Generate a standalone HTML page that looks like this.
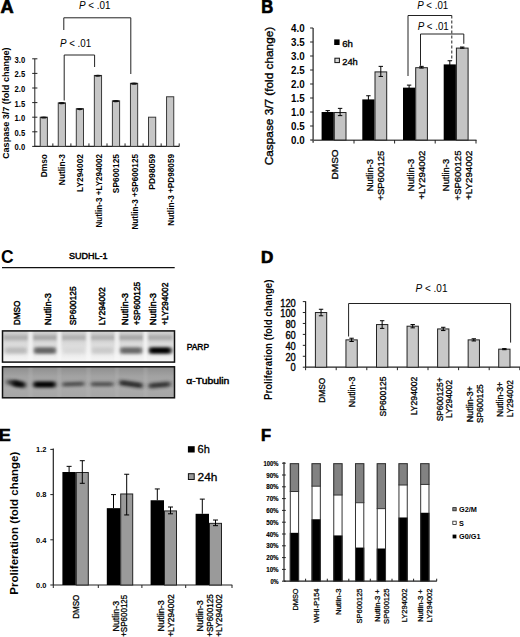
<!DOCTYPE html>
<html><head><meta charset="utf-8"><style>
html,body{margin:0;padding:0;background:#fff;}
svg{display:block;}
text{font-family:"Liberation Sans", sans-serif;}
</style></head><body>
<svg width="520" height="637" viewBox="0 0 520 637">
<rect width="520" height="637" fill="#fff"/>
<text x="0.6" y="12.5" font-size="18.2" font-weight="bold" text-anchor="start" fill="#000" stroke="#000" stroke-width="0.7">A</text>
<line x1="34.8" y1="58.8" x2="34.8" y2="146.9" stroke="#222" stroke-width="1" />
<line x1="32.2" y1="146.4" x2="37.4" y2="146.4" stroke="#222" stroke-width="1" />
<text x="25.2" y="150.3" font-size="8.5" font-weight="bold" text-anchor="end" fill="#000" textLength="10.6" lengthAdjust="spacingAndGlyphs" >0.0</text>
<line x1="32.2" y1="131.8" x2="37.4" y2="131.8" stroke="#222" stroke-width="1" />
<text x="25.2" y="135.7" font-size="8.5" font-weight="bold" text-anchor="end" fill="#000" textLength="10.6" lengthAdjust="spacingAndGlyphs" >0.5</text>
<line x1="32.2" y1="117.2" x2="37.4" y2="117.2" stroke="#222" stroke-width="1" />
<text x="25.2" y="121.1" font-size="8.5" font-weight="bold" text-anchor="end" fill="#000" textLength="10.6" lengthAdjust="spacingAndGlyphs" >1.0</text>
<line x1="32.2" y1="102.6" x2="37.4" y2="102.6" stroke="#222" stroke-width="1" />
<text x="25.2" y="106.5" font-size="8.5" font-weight="bold" text-anchor="end" fill="#000" textLength="10.6" lengthAdjust="spacingAndGlyphs" >1.5</text>
<line x1="32.2" y1="88.0" x2="37.4" y2="88.0" stroke="#222" stroke-width="1" />
<text x="25.2" y="91.9" font-size="8.5" font-weight="bold" text-anchor="end" fill="#000" textLength="10.6" lengthAdjust="spacingAndGlyphs" >2.0</text>
<line x1="32.2" y1="73.4" x2="37.4" y2="73.4" stroke="#222" stroke-width="1" />
<text x="25.2" y="77.3" font-size="8.5" font-weight="bold" text-anchor="end" fill="#000" textLength="10.6" lengthAdjust="spacingAndGlyphs" >2.5</text>
<line x1="32.2" y1="58.8" x2="37.4" y2="58.8" stroke="#222" stroke-width="1" />
<text x="25.2" y="62.7" font-size="8.5" font-weight="bold" text-anchor="end" fill="#000" textLength="10.6" lengthAdjust="spacingAndGlyphs" >3.0</text>
<line x1="34.8" y1="146.4" x2="179.3" y2="146.4" stroke="#222" stroke-width="1.2" />
<line x1="52.85" y1="143.4" x2="52.85" y2="146.4" stroke="#222" stroke-width="1" />
<line x1="70.9" y1="143.4" x2="70.9" y2="146.4" stroke="#222" stroke-width="1" />
<line x1="88.95" y1="143.4" x2="88.95" y2="146.4" stroke="#222" stroke-width="1" />
<line x1="107.0" y1="143.4" x2="107.0" y2="146.4" stroke="#222" stroke-width="1" />
<line x1="125.05" y1="143.4" x2="125.05" y2="146.4" stroke="#222" stroke-width="1" />
<line x1="143.1" y1="143.4" x2="143.1" y2="146.4" stroke="#222" stroke-width="1" />
<line x1="161.15" y1="143.4" x2="161.15" y2="146.4" stroke="#222" stroke-width="1" />
<line x1="179.2" y1="143.4" x2="179.2" y2="146.4" stroke="#222" stroke-width="1" />
<rect x="40.2" y="117.2" width="7.2" height="29.2" fill="#c6c6c6" stroke="#3a3a3a" stroke-width="1" />
<ellipse cx="43.8" cy="117.5" rx="3.2" ry="1.1" fill="#111"/>
<rect x="58.25" y="102.89" width="7.2" height="43.51" fill="#c6c6c6" stroke="#3a3a3a" stroke-width="1" />
<ellipse cx="61.85" cy="103.19" rx="3.2" ry="1.1" fill="#111"/>
<rect x="76.3" y="108.73" width="7.2" height="37.67" fill="#c6c6c6" stroke="#3a3a3a" stroke-width="1" />
<ellipse cx="79.9" cy="109.03" rx="3.2" ry="1.1" fill="#111"/>
<rect x="94.35" y="75.44" width="7.2" height="70.96" fill="#c6c6c6" stroke="#3a3a3a" stroke-width="1" />
<ellipse cx="97.95" cy="75.74" rx="3.2" ry="1.1" fill="#111"/>
<rect x="112.4" y="100.85" width="7.2" height="45.55" fill="#c6c6c6" stroke="#3a3a3a" stroke-width="1" />
<ellipse cx="116.0" cy="101.15" rx="3.2" ry="1.1" fill="#111"/>
<rect x="130.45" y="83.33" width="7.2" height="63.07" fill="#c6c6c6" stroke="#3a3a3a" stroke-width="1" />
<ellipse cx="134.05" cy="83.63" rx="3.2" ry="1.1" fill="#111"/>
<rect x="148.5" y="117.2" width="7.2" height="29.2" fill="#c6c6c6" stroke="#3a3a3a" stroke-width="1" />
<rect x="166.55" y="96.76" width="7.2" height="49.64" fill="#c6c6c6" stroke="#3a3a3a" stroke-width="1" />
<text x="0" y="0" font-size="8.4" font-weight="bold" text-anchor="end" fill="#000" transform="translate(46.8,154) rotate(-90)" >Dmso</text>
<text x="0" y="0" font-size="8.4" font-weight="bold" text-anchor="end" fill="#000" transform="translate(64.85,154) rotate(-90)" >Nutlin-3</text>
<text x="0" y="0" font-size="8.4" font-weight="bold" text-anchor="end" fill="#000" transform="translate(82.9,154) rotate(-90)" >LY294002</text>
<text x="0" y="0" font-size="8.4" font-weight="bold" text-anchor="end" fill="#000" transform="translate(101.75,154) rotate(-90)" textLength="73.6" lengthAdjust="spacingAndGlyphs" >Nutlin-3 +LY294002</text>
<text x="0" y="0" font-size="8.4" font-weight="bold" text-anchor="end" fill="#000" transform="translate(119.0,154) rotate(-90)" >SP600125</text>
<text x="0" y="0" font-size="8.4" font-weight="bold" text-anchor="end" fill="#000" transform="translate(137.65,154) rotate(-90)" textLength="75.6" lengthAdjust="spacingAndGlyphs" >Nutlin-3 +SP600125</text>
<text x="0" y="0" font-size="8.4" font-weight="bold" text-anchor="end" fill="#000" transform="translate(155.1,154) rotate(-90)" textLength="35.8" lengthAdjust="spacingAndGlyphs" >PD98059</text>
<text x="0" y="0" font-size="8.4" font-weight="bold" text-anchor="end" fill="#000" transform="translate(173.95,154) rotate(-90)" textLength="71.8" lengthAdjust="spacingAndGlyphs" >Nutlin-3 +PD98059</text>
<text x="0" y="0" font-size="9" font-weight="bold" text-anchor="middle" fill="#000" transform="translate(8.8,103.2) rotate(-90)" textLength="111.5" lengthAdjust="spacingAndGlyphs" >Caspase 3/7 (fold change)</text>
<path d="M63.8,30 V17.8 H130.8 V74" fill="none" stroke="#222" stroke-width="1"/>
<path d="M64.2,100.5 V55 H94.6 V67" fill="none" stroke="#222" stroke-width="1"/>
<text x="79" y="8.8" font-size="10" font-weight="normal" textLength="31.5" lengthAdjust="spacingAndGlyphs"><tspan font-style="italic">P</tspan> &lt; .01</text>
<text x="60" y="46.8" font-size="10" font-weight="normal" textLength="31.2" lengthAdjust="spacingAndGlyphs"><tspan font-style="italic">P</tspan> &lt; .01</text>
<text x="261.2" y="12.8" font-size="17.6" font-weight="bold" text-anchor="start" fill="#000" textLength="12.0" lengthAdjust="spacingAndGlyphs" stroke="#000" stroke-width="0.7">B</text>
<line x1="313.1" y1="28.0" x2="313.1" y2="142.8" stroke="#222" stroke-width="1.2" />
<line x1="310.1" y1="140.0" x2="313.1" y2="140.0" stroke="#222" stroke-width="1" />
<text x="304.6" y="144.2" font-size="10.2" font-weight="bold" text-anchor="end" fill="#000" textLength="13.6" lengthAdjust="spacingAndGlyphs" >0.0</text>
<line x1="310.1" y1="126.0" x2="313.1" y2="126.0" stroke="#222" stroke-width="1" />
<text x="304.6" y="130.2" font-size="10.2" font-weight="bold" text-anchor="end" fill="#000" textLength="13.6" lengthAdjust="spacingAndGlyphs" >0.5</text>
<line x1="310.1" y1="112.0" x2="313.1" y2="112.0" stroke="#222" stroke-width="1" />
<text x="304.6" y="116.2" font-size="10.2" font-weight="bold" text-anchor="end" fill="#000" textLength="13.6" lengthAdjust="spacingAndGlyphs" >1.0</text>
<line x1="310.1" y1="98.0" x2="313.1" y2="98.0" stroke="#222" stroke-width="1" />
<text x="304.6" y="102.2" font-size="10.2" font-weight="bold" text-anchor="end" fill="#000" textLength="13.6" lengthAdjust="spacingAndGlyphs" >1.5</text>
<line x1="310.1" y1="84.0" x2="313.1" y2="84.0" stroke="#222" stroke-width="1" />
<text x="304.6" y="88.2" font-size="10.2" font-weight="bold" text-anchor="end" fill="#000" textLength="13.6" lengthAdjust="spacingAndGlyphs" >2.0</text>
<line x1="310.1" y1="70.0" x2="313.1" y2="70.0" stroke="#222" stroke-width="1" />
<text x="304.6" y="74.2" font-size="10.2" font-weight="bold" text-anchor="end" fill="#000" textLength="13.6" lengthAdjust="spacingAndGlyphs" >2.5</text>
<line x1="310.1" y1="56.0" x2="313.1" y2="56.0" stroke="#222" stroke-width="1" />
<text x="304.6" y="60.2" font-size="10.2" font-weight="bold" text-anchor="end" fill="#000" textLength="13.6" lengthAdjust="spacingAndGlyphs" >3.0</text>
<line x1="310.1" y1="42.0" x2="313.1" y2="42.0" stroke="#222" stroke-width="1" />
<text x="304.6" y="46.2" font-size="10.2" font-weight="bold" text-anchor="end" fill="#000" textLength="13.6" lengthAdjust="spacingAndGlyphs" >3.5</text>
<line x1="310.1" y1="28.0" x2="313.1" y2="28.0" stroke="#222" stroke-width="1" />
<text x="304.6" y="32.2" font-size="10.2" font-weight="bold" text-anchor="end" fill="#000" textLength="13.6" lengthAdjust="spacingAndGlyphs" >4.0</text>
<line x1="311.6" y1="140.3" x2="476.5" y2="140.3" stroke="#555" stroke-width="1.6" />
<line x1="354.0" y1="140.0" x2="354.0" y2="143.5" stroke="#222" stroke-width="1" />
<line x1="394.6" y1="140.0" x2="394.6" y2="143.5" stroke="#222" stroke-width="1" />
<line x1="435.2" y1="140.0" x2="435.2" y2="143.5" stroke="#222" stroke-width="1" />
<line x1="476.0" y1="140.0" x2="476.0" y2="143.5" stroke="#222" stroke-width="1" />
<rect x="321.6" y="112.0" width="12.2" height="28.0" fill="#000" />
<rect x="334.3" y="112.5" width="11.7" height="27.5" fill="#c4c4c4" stroke="#222" stroke-width="1" />
<line x1="327.7" y1="110.6" x2="327.7" y2="113.4" stroke="#000" stroke-width="1" />
<line x1="325.5" y1="110.6" x2="329.9" y2="110.6" stroke="#000" stroke-width="1" />
<line x1="325.5" y1="113.4" x2="329.9" y2="113.4" stroke="#000" stroke-width="1" />
<line x1="340.1" y1="108.36" x2="340.1" y2="115.64" stroke="#000" stroke-width="1" />
<line x1="337.9" y1="108.36" x2="342.3" y2="108.36" stroke="#000" stroke-width="1" />
<line x1="337.9" y1="115.64" x2="342.3" y2="115.64" stroke="#000" stroke-width="1" />
<rect x="362.3" y="99.4" width="12.2" height="40.6" fill="#000" />
<rect x="375.0" y="71.9" width="11.7" height="68.1" fill="#c4c4c4" stroke="#222" stroke-width="1" />
<line x1="368.4" y1="95.76" x2="368.4" y2="103.04" stroke="#000" stroke-width="1" />
<line x1="366.2" y1="95.76" x2="370.6" y2="95.76" stroke="#000" stroke-width="1" />
<line x1="366.2" y1="103.04" x2="370.6" y2="103.04" stroke="#000" stroke-width="1" />
<line x1="380.8" y1="66.36" x2="380.8" y2="76.44" stroke="#000" stroke-width="1" />
<line x1="378.6" y1="66.36" x2="383.0" y2="66.36" stroke="#000" stroke-width="1" />
<line x1="378.6" y1="76.44" x2="383.0" y2="76.44" stroke="#000" stroke-width="1" />
<rect x="403.0" y="87.64" width="12.2" height="52.36" fill="#000" />
<rect x="415.7" y="67.7" width="11.7" height="72.3" fill="#c4c4c4" stroke="#222" stroke-width="1" />
<line x1="409.1" y1="85.12" x2="409.1" y2="90.16" stroke="#000" stroke-width="1" />
<line x1="406.9" y1="85.12" x2="411.3" y2="85.12" stroke="#000" stroke-width="1" />
<line x1="406.9" y1="90.16" x2="411.3" y2="90.16" stroke="#000" stroke-width="1" />
<line x1="421.5" y1="66.36" x2="421.5" y2="68.04" stroke="#000" stroke-width="1" />
<line x1="419.3" y1="66.36" x2="423.7" y2="66.36" stroke="#000" stroke-width="1" />
<line x1="419.3" y1="68.04" x2="423.7" y2="68.04" stroke="#000" stroke-width="1" />
<rect x="443.7" y="64.4" width="12.2" height="75.6" fill="#000" />
<rect x="456.4" y="48.1" width="11.7" height="91.9" fill="#c4c4c4" stroke="#222" stroke-width="1" />
<line x1="449.8" y1="60.76" x2="449.8" y2="68.04" stroke="#000" stroke-width="1" />
<line x1="447.6" y1="60.76" x2="452" y2="60.76" stroke="#000" stroke-width="1" />
<line x1="447.6" y1="68.04" x2="452" y2="68.04" stroke="#000" stroke-width="1" />
<line x1="462.2" y1="47.04" x2="462.2" y2="48.16" stroke="#000" stroke-width="1" />
<line x1="460.0" y1="47.04" x2="464.4" y2="47.04" stroke="#000" stroke-width="1" />
<line x1="460.0" y1="48.16" x2="464.4" y2="48.16" stroke="#000" stroke-width="1" />
<rect x="334.2" y="39.4" width="5.4" height="5.6" fill="#000" />
<text x="342.2" y="46.6" font-size="9.6" font-weight="normal" text-anchor="start" fill="#000" stroke="#000" stroke-width="0.35">6h</text>
<rect x="334.9" y="58.2" width="4.5" height="4.4" fill="#d8d8d8" stroke="#111" stroke-width="1" />
<text x="342.2" y="64.8" font-size="9.6" font-weight="normal" text-anchor="start" fill="#000" textLength="15.6" lengthAdjust="spacingAndGlyphs" stroke="#000" stroke-width="0.35">24h</text>
<text x="0" y="0" font-size="11.5" font-weight="normal" text-anchor="middle" fill="#000" transform="translate(272.8,96.0) rotate(-90)" textLength="138.5" lengthAdjust="spacingAndGlyphs" stroke="#000" stroke-width="0.35">Caspase 3/7 (fold change)</text>
<text x="0" y="0" font-size="9.6" font-weight="normal" text-anchor="middle" fill="#000" transform="translate(338.4,164.4) rotate(-90)" textLength="30.0" lengthAdjust="spacingAndGlyphs" stroke="#000" stroke-width="0.3">DMSO</text>
<text x="0" y="0" font-size="9.6" font-weight="normal" text-anchor="middle" fill="#000" transform="translate(373.4,175.2) rotate(-90)" textLength="32.3" lengthAdjust="spacingAndGlyphs" stroke="#000" stroke-width="0.3">Nutlin-3</text>
<text x="0" y="0" font-size="9.6" font-weight="normal" text-anchor="middle" fill="#000" transform="translate(384.3,175.7) rotate(-90)" textLength="49.8" lengthAdjust="spacingAndGlyphs" stroke="#000" stroke-width="0.3">+SP600125</text>
<text x="0" y="0" font-size="9.6" font-weight="normal" text-anchor="middle" fill="#000" transform="translate(414.3,175.0) rotate(-90)" textLength="32.3" lengthAdjust="spacingAndGlyphs" stroke="#000" stroke-width="0.3">Nutlin-3</text>
<text x="0" y="0" font-size="9.6" font-weight="normal" text-anchor="middle" fill="#000" transform="translate(425.1,175.1) rotate(-90)" textLength="49.0" lengthAdjust="spacingAndGlyphs" stroke="#000" stroke-width="0.3">+LY294002</text>
<text x="0" y="0" font-size="9.6" font-weight="normal" text-anchor="middle" fill="#000" transform="translate(449.3,175.0) rotate(-90)" textLength="32.3" lengthAdjust="spacingAndGlyphs" stroke="#000" stroke-width="0.3">Nutlin-3</text>
<text x="0" y="0" font-size="9.6" font-weight="normal" text-anchor="middle" fill="#000" transform="translate(461.1,175.5) rotate(-90)" textLength="49.8" lengthAdjust="spacingAndGlyphs" stroke="#000" stroke-width="0.3">+SP600125</text>
<text x="0" y="0" font-size="9.6" font-weight="normal" text-anchor="middle" fill="#000" transform="translate(471.9,175.2) rotate(-90)" textLength="49.2" lengthAdjust="spacingAndGlyphs" stroke="#000" stroke-width="0.3">+LY294002</text>
<path d="M408,76 V15.5 H451.8" fill="none" stroke="#222" stroke-width="1"/>
<line x1="451.8" y1="15.5" x2="451.8" y2="61" stroke="#222" stroke-width="1" stroke-dasharray="3,2"/>
<path d="M420.5,65.8 V34 H463.8 V43.8" fill="none" stroke="#222" stroke-width="1"/>
<text x="417.2" y="9.2" font-size="10" font-weight="normal" textLength="31" lengthAdjust="spacingAndGlyphs"><tspan font-style="italic">P</tspan> &lt; .01</text>
<text x="417.7" y="30.2" font-size="10" font-weight="normal" textLength="31.1" lengthAdjust="spacingAndGlyphs"><tspan font-style="italic">P</tspan> &lt; .01</text>
<text x="1.0" y="263.4" font-size="17.5" font-weight="bold" text-anchor="start" fill="#000" >C</text>
<text x="69.0" y="258.7" font-size="9.9" font-weight="normal" text-anchor="start" fill="#000" textLength="38.6" lengthAdjust="spacingAndGlyphs" stroke="#000" stroke-width="0.5">SUDHL-1</text>
<line x1="2" y1="267.6" x2="174.7" y2="267.6" stroke="#111" stroke-width="1.4" />
<text x="0" y="0" font-size="9.4" font-weight="normal" text-anchor="start" fill="#000" transform="translate(19.6,325.3) rotate(-90)" textLength="24.8" lengthAdjust="spacingAndGlyphs" stroke="#000" stroke-width="0.45">DMSO</text>
<text x="0" y="0" font-size="9.4" font-weight="normal" text-anchor="start" fill="#000" transform="translate(50.6,325.3) rotate(-90)" textLength="32.2" lengthAdjust="spacingAndGlyphs" stroke="#000" stroke-width="0.45">Nutlin-3</text>
<text x="0" y="0" font-size="9.4" font-weight="normal" text-anchor="start" fill="#000" transform="translate(75.6,325.3) rotate(-90)" textLength="38.9" lengthAdjust="spacingAndGlyphs" stroke="#000" stroke-width="0.45">SP600125</text>
<text x="0" y="0" font-size="9.4" font-weight="normal" text-anchor="start" fill="#000" transform="translate(105.0,325.3) rotate(-90)" textLength="38.0" lengthAdjust="spacingAndGlyphs" stroke="#000" stroke-width="0.45">LY294002</text>
<text x="0" y="0" font-size="9.4" font-weight="normal" text-anchor="start" fill="#000" transform="translate(127.6,325.3) rotate(-90)" textLength="32.4" lengthAdjust="spacingAndGlyphs" stroke="#000" stroke-width="0.45">Nutlin-3</text>
<text x="0" y="0" font-size="9.4" font-weight="normal" text-anchor="start" fill="#000" transform="translate(140.2,325.3) rotate(-90)" textLength="43.4" lengthAdjust="spacingAndGlyphs" stroke="#000" stroke-width="0.45">+SP600125</text>
<text x="0" y="0" font-size="9.4" font-weight="normal" text-anchor="start" fill="#000" transform="translate(155.6,325.3) rotate(-90)" textLength="32.4" lengthAdjust="spacingAndGlyphs" stroke="#000" stroke-width="0.45">Nutlin-3</text>
<text x="0" y="0" font-size="9.4" font-weight="normal" text-anchor="start" fill="#000" transform="translate(168.1,325.3) rotate(-90)" textLength="42.8" lengthAdjust="spacingAndGlyphs" stroke="#000" stroke-width="0.45">+LY294002</text>
<defs>
<filter id="bl1" x="-50%" y="-200%" width="200%" height="500%"><feGaussianBlur stdDeviation="1.8 1.4"/></filter>
<filter id="bl2" x="-50%" y="-200%" width="200%" height="500%"><feGaussianBlur stdDeviation="2.2 1.5"/></filter>
<filter id="bl3" x="-50%" y="-50%" width="200%" height="200%"><feGaussianBlur stdDeviation="1.5 0.5"/></filter>
<filter id="bl4" x="-50%" y="-200%" width="200%" height="500%"><feGaussianBlur stdDeviation="2.2 1.8"/></filter>
<linearGradient id="parpbg" x1="0" y1="0" x2="0" y2="1"><stop offset="0" stop-color="#cecece"/><stop offset="0.45" stop-color="#dcdcdc"/><stop offset="0.8" stop-color="#eeeeee"/><stop offset="1" stop-color="#f6f6f6"/></linearGradient>
<linearGradient id="tubbg" x1="0" y1="0" x2="0" y2="1"><stop offset="0" stop-color="#8e8e8e"/><stop offset="0.3" stop-color="#a2a2a2"/><stop offset="0.7" stop-color="#aaa"/><stop offset="1" stop-color="#a6a6a6"/></linearGradient>
<clipPath id="cp1"><rect x="2.5" y="330.9" width="172" height="31.2"/></clipPath>
<clipPath id="cp2"><rect x="2.5" y="366.8" width="172" height="31"/></clipPath>
</defs>
<rect x="2.5" y="330.9" width="172.0" height="31.2" fill="url(#parpbg)" />
<g clip-path="url(#cp1)">
<rect x="3.5" y="335.0" width="25" height="5.2" fill="#a4a4a4" opacity="0.8" filter="url(#bl1)"/>
<rect x="32.5" y="335.0" width="25" height="5.2" fill="#9c9c9c" opacity="0.8" filter="url(#bl1)"/>
<rect x="61.5" y="335.0" width="25" height="5.2" fill="#a8a8a8" opacity="0.8" filter="url(#bl1)"/>
<rect x="90.0" y="335.0" width="25" height="5.2" fill="#a8a8a8" opacity="0.8" filter="url(#bl1)"/>
<rect x="118.5" y="335.0" width="25" height="5.2" fill="#9c9c9c" opacity="0.8" filter="url(#bl1)"/>
<rect x="147.5" y="335.0" width="25" height="5.2" fill="#a0a0a0" opacity="0.8" filter="url(#bl1)"/>
<rect x="4.5" y="347.2" width="23" height="6.6" rx="2.5" fill="#b4b4b4" opacity="0.85" filter="url(#bl4)"/>
<rect x="33.5" y="347.2" width="23" height="6.6" rx="2.5" fill="#555" opacity="0.9" filter="url(#bl4)"/>
<rect x="62.5" y="347.2" width="23" height="6.6" rx="2.5" fill="#d0d0d0" opacity="0.6" filter="url(#bl4)"/>
<rect x="91.0" y="347.2" width="23" height="6.6" rx="2.5" fill="#c0c0c0" opacity="0.7" filter="url(#bl4)"/>
<rect x="119.5" y="347.2" width="23" height="6.6" rx="2.5" fill="#5a5a5a" opacity="0.9" filter="url(#bl4)"/>
<rect x="148.5" y="347.2" width="23" height="6.6" rx="2.5" fill="#000" opacity="1.0" filter="url(#bl4)"/>
<rect x="28.7" y="331" width="3.6" height="31" fill="#f8f8f8" opacity="0.9" filter="url(#bl3)"/>
<rect x="57.5" y="331" width="3.6" height="31" fill="#f8f8f8" opacity="0.9" filter="url(#bl3)"/>
<rect x="86.7" y="331" width="3.6" height="31" fill="#f8f8f8" opacity="0.9" filter="url(#bl3)"/>
<rect x="115.2" y="331" width="3.6" height="31" fill="#f8f8f8" opacity="0.9" filter="url(#bl3)"/>
<rect x="143.8" y="331" width="3.6" height="31" fill="#f8f8f8" opacity="0.9" filter="url(#bl3)"/>
</g>
<rect x="2.5" y="330.9" width="172.0" height="31.2" fill="none" stroke="#111" stroke-width="1.5" />
<rect x="2.5" y="366.8" width="172.0" height="31.0" fill="url(#tubbg)" />
<g clip-path="url(#cp2)">
<rect x="6.5" y="380.1" width="12.5" height="5.0" rx="2" fill="#2a2a2a" opacity="0.8" filter="url(#bl2)" transform="rotate(5 12.75 382.6)"/>
<rect x="12.5" y="381.3" width="13.0" height="6.0" rx="2" fill="#000" opacity="0.95" filter="url(#bl2)" transform="rotate(8 19.0 384.3)"/>
<rect x="33.3" y="381.4" width="22.4" height="6.0" rx="2" fill="#000" opacity="1.0" filter="url(#bl2)" transform="rotate(0 44.5 384.4)"/>
<rect x="62" y="381.9" width="22.5" height="4.4" rx="2" fill="#383838" opacity="0.82" filter="url(#bl2)" transform="rotate(-2 73.25 384.1)"/>
<rect x="90.5" y="381.9" width="23.0" height="4.4" rx="2" fill="#3c3c3c" opacity="0.82" filter="url(#bl2)" transform="rotate(0 102.0 384.1)"/>
<rect x="119" y="381.6" width="24" height="5.2" rx="2" fill="#1a1a1a" opacity="0.9" filter="url(#bl2)" transform="rotate(8 131.0 384.2)"/>
<rect x="148.5" y="382.5" width="22.0" height="5.0" rx="2" fill="#222" opacity="0.9" filter="url(#bl2)" transform="rotate(-5 159.5 385.0)"/>
<rect x="29.1" y="367" width="2.8" height="31" fill="#c0c0c0" opacity="0.35" filter="url(#bl3)"/>
<rect x="57.9" y="367" width="2.8" height="31" fill="#c0c0c0" opacity="0.35" filter="url(#bl3)"/>
<rect x="87.1" y="367" width="2.8" height="31" fill="#c0c0c0" opacity="0.35" filter="url(#bl3)"/>
<rect x="115.6" y="367" width="2.8" height="31" fill="#c0c0c0" opacity="0.35" filter="url(#bl3)"/>
<rect x="144.2" y="367" width="2.8" height="31" fill="#c0c0c0" opacity="0.35" filter="url(#bl3)"/>
</g>
<rect x="2.5" y="366.8" width="172.0" height="31.0" fill="none" stroke="#111" stroke-width="1.5" />
<text x="186.7" y="350.2" font-size="9.4" font-weight="normal" text-anchor="start" fill="#000" textLength="22.4" lengthAdjust="spacingAndGlyphs" stroke="#000" stroke-width="0.45">PARP</text>
<text x="186.2" y="384.3" font-size="9.6" font-weight="normal" text-anchor="start" fill="#000" textLength="43.2" lengthAdjust="spacingAndGlyphs" stroke="#000" stroke-width="0.45">α-Tubulin</text>
<text x="261.0" y="262.8" font-size="15.8" font-weight="bold" text-anchor="start" fill="#000" textLength="12.3" lengthAdjust="spacingAndGlyphs" stroke="#000" stroke-width="0.7">D</text>
<line x1="305.6" y1="301.3" x2="305.6" y2="367.2" stroke="#222" stroke-width="1.2" />
<line x1="302.8" y1="367.2" x2="305.6" y2="367.2" stroke="#222" stroke-width="1" />
<text x="295.8" y="371.4" font-size="10.6" font-weight="normal" text-anchor="end" fill="#000" textLength="5.2" lengthAdjust="spacingAndGlyphs" stroke="#000" stroke-width="0.35">0</text>
<line x1="302.8" y1="356.27" x2="305.6" y2="356.27" stroke="#222" stroke-width="1" />
<text x="295.8" y="360.6" font-size="10.6" font-weight="normal" text-anchor="end" fill="#000" textLength="10.4" lengthAdjust="spacingAndGlyphs" stroke="#000" stroke-width="0.35">20</text>
<line x1="302.8" y1="345.33" x2="305.6" y2="345.33" stroke="#222" stroke-width="1" />
<text x="295.8" y="349.8" font-size="10.6" font-weight="normal" text-anchor="end" fill="#000" textLength="10.4" lengthAdjust="spacingAndGlyphs" stroke="#000" stroke-width="0.35">40</text>
<line x1="302.8" y1="334.4" x2="305.6" y2="334.4" stroke="#222" stroke-width="1" />
<text x="295.8" y="339.0" font-size="10.6" font-weight="normal" text-anchor="end" fill="#000" textLength="10.4" lengthAdjust="spacingAndGlyphs" stroke="#000" stroke-width="0.35">60</text>
<line x1="302.8" y1="323.46" x2="305.6" y2="323.46" stroke="#222" stroke-width="1" />
<text x="295.8" y="328.2" font-size="10.6" font-weight="normal" text-anchor="end" fill="#000" textLength="10.4" lengthAdjust="spacingAndGlyphs" stroke="#000" stroke-width="0.35">80</text>
<line x1="302.8" y1="312.53" x2="305.6" y2="312.53" stroke="#222" stroke-width="1" />
<text x="295.8" y="317.4" font-size="10.6" font-weight="normal" text-anchor="end" fill="#000" textLength="15.6" lengthAdjust="spacingAndGlyphs" stroke="#000" stroke-width="0.35">100</text>
<line x1="302.8" y1="301.6" x2="305.6" y2="301.6" stroke="#222" stroke-width="1" />
<text x="295.8" y="306.6" font-size="10.6" font-weight="normal" text-anchor="end" fill="#000" textLength="15.6" lengthAdjust="spacingAndGlyphs" stroke="#000" stroke-width="0.35">120</text>
<line x1="305.6" y1="367.2" x2="520" y2="367.2" stroke="#222" stroke-width="1.2" />
<line x1="305.6" y1="367.2" x2="305.6" y2="370.2" stroke="#222" stroke-width="1" />
<line x1="336.2" y1="367.2" x2="336.2" y2="370.2" stroke="#222" stroke-width="1" />
<line x1="366.8" y1="367.2" x2="366.8" y2="370.2" stroke="#222" stroke-width="1" />
<line x1="397.4" y1="367.2" x2="397.4" y2="370.2" stroke="#222" stroke-width="1" />
<line x1="428.0" y1="367.2" x2="428.0" y2="370.2" stroke="#222" stroke-width="1" />
<line x1="458.6" y1="367.2" x2="458.6" y2="370.2" stroke="#222" stroke-width="1" />
<line x1="489.2" y1="367.2" x2="489.2" y2="370.2" stroke="#222" stroke-width="1" />
<line x1="519.8" y1="367.2" x2="519.8" y2="370.2" stroke="#222" stroke-width="1" />
<rect x="315.4" y="312.53" width="11.3" height="54.67" fill="#c8c8c8" stroke="#222" stroke-width="1" />
<line x1="321.05" y1="309.25" x2="321.05" y2="315.81" stroke="#000" stroke-width="1" />
<line x1="318.85" y1="309.25" x2="323.25" y2="309.25" stroke="#000" stroke-width="1" />
<line x1="318.85" y1="315.81" x2="323.25" y2="315.81" stroke="#000" stroke-width="1" />
<rect x="345.95" y="339.87" width="11.3" height="27.33" fill="#c8c8c8" stroke="#222" stroke-width="1" />
<line x1="351.6" y1="338.22" x2="351.6" y2="341.51" stroke="#000" stroke-width="1" />
<line x1="349.4" y1="338.22" x2="353.8" y2="338.22" stroke="#000" stroke-width="1" />
<line x1="349.4" y1="341.51" x2="353.8" y2="341.51" stroke="#000" stroke-width="1" />
<rect x="376.5" y="324.56" width="11.3" height="42.64" fill="#c8c8c8" stroke="#222" stroke-width="1" />
<line x1="382.15" y1="320.73" x2="382.15" y2="328.38" stroke="#000" stroke-width="1" />
<line x1="379.95" y1="320.73" x2="384.35" y2="320.73" stroke="#000" stroke-width="1" />
<line x1="379.95" y1="328.38" x2="384.35" y2="328.38" stroke="#000" stroke-width="1" />
<rect x="407.05" y="326.2" width="11.3" height="41" fill="#c8c8c8" stroke="#222" stroke-width="1" />
<line x1="412.7" y1="324.56" x2="412.7" y2="327.84" stroke="#000" stroke-width="1" />
<line x1="410.5" y1="324.56" x2="414.9" y2="324.56" stroke="#000" stroke-width="1" />
<line x1="410.5" y1="327.84" x2="414.9" y2="327.84" stroke="#000" stroke-width="1" />
<rect x="437.6" y="328.93" width="11.3" height="38.27" fill="#c8c8c8" stroke="#222" stroke-width="1" />
<line x1="443.25" y1="327.29" x2="443.25" y2="330.57" stroke="#000" stroke-width="1" />
<line x1="441.05" y1="327.29" x2="445.45" y2="327.29" stroke="#000" stroke-width="1" />
<line x1="441.05" y1="330.57" x2="445.45" y2="330.57" stroke="#000" stroke-width="1" />
<rect x="468.15" y="339.87" width="11.3" height="27.33" fill="#c8c8c8" stroke="#222" stroke-width="1" />
<line x1="473.8" y1="338.77" x2="473.8" y2="340.96" stroke="#000" stroke-width="1" />
<line x1="471.6" y1="338.77" x2="476" y2="338.77" stroke="#000" stroke-width="1" />
<line x1="471.6" y1="340.96" x2="476" y2="340.96" stroke="#000" stroke-width="1" />
<rect x="498.7" y="349.16" width="11.3" height="18.04" fill="#c8c8c8" stroke="#222" stroke-width="1" />
<line x1="504.35" y1="348.61" x2="504.35" y2="349.71" stroke="#000" stroke-width="1" />
<line x1="502.15" y1="348.61" x2="506.55" y2="348.61" stroke="#000" stroke-width="1" />
<line x1="502.15" y1="349.71" x2="506.55" y2="349.71" stroke="#000" stroke-width="1" />
<path d="M348.6,336.5 V303.5 H510.6 V342.6" fill="none" stroke="#222" stroke-width="1"/>
<text x="415.5" y="292.3" font-size="10" font-weight="normal" textLength="32" lengthAdjust="spacingAndGlyphs"><tspan font-style="italic">P</tspan> &lt; .01</text>
<text x="0" y="0" font-size="10" font-weight="bold" text-anchor="middle" fill="#000" transform="translate(272.4,339.8) rotate(-90)" textLength="120.5" lengthAdjust="spacingAndGlyphs" >Proliferation (fold change)</text>
<text x="0" y="0" font-size="8.6" font-weight="normal" text-anchor="middle" fill="#000" transform="translate(324.8,390.2) rotate(-90)" textLength="24.9" lengthAdjust="spacingAndGlyphs" stroke="#000" stroke-width="0.3">DMSO</text>
<text x="0" y="0" font-size="8.6" font-weight="normal" text-anchor="middle" fill="#000" transform="translate(355.3,391.9) rotate(-90)" textLength="30.6" lengthAdjust="spacingAndGlyphs" stroke="#000" stroke-width="0.3">Nutlin-3</text>
<text x="0" y="0" font-size="8.6" font-weight="normal" text-anchor="middle" fill="#000" transform="translate(386.0,396.5) rotate(-90)" textLength="39.9" lengthAdjust="spacingAndGlyphs" stroke="#000" stroke-width="0.3">SP600125</text>
<text x="0" y="0" font-size="8.6" font-weight="normal" text-anchor="middle" fill="#000" transform="translate(416.6,396.0) rotate(-90)" textLength="38.7" lengthAdjust="spacingAndGlyphs" stroke="#000" stroke-width="0.3">LY294002</text>
<text x="0" y="0" font-size="8.6" font-weight="normal" text-anchor="middle" fill="#000" transform="translate(442.8,399.4) rotate(-90)" textLength="43.8" lengthAdjust="spacingAndGlyphs" stroke="#000" stroke-width="0.3">SP600125+</text>
<text x="0" y="0" font-size="8.6" font-weight="normal" text-anchor="middle" fill="#000" transform="translate(452.3,399.0) rotate(-90)" textLength="37.8" lengthAdjust="spacingAndGlyphs" stroke="#000" stroke-width="0.3">LY294002</text>
<text x="0" y="0" font-size="8.6" font-weight="normal" text-anchor="middle" fill="#000" transform="translate(473.1,404.2) rotate(-90)" textLength="36.1" lengthAdjust="spacingAndGlyphs" stroke="#000" stroke-width="0.3">Nutlin-3+</text>
<text x="0" y="0" font-size="8.6" font-weight="normal" text-anchor="middle" fill="#000" transform="translate(482.6,403.75) rotate(-90)" textLength="38.7" lengthAdjust="spacingAndGlyphs" stroke="#000" stroke-width="0.3">SP600125</text>
<text x="0" y="0" font-size="8.6" font-weight="normal" text-anchor="middle" fill="#000" transform="translate(502.5,399.4) rotate(-90)" textLength="35.2" lengthAdjust="spacingAndGlyphs" stroke="#000" stroke-width="0.3">Nutlin-3+</text>
<text x="0" y="0" font-size="8.6" font-weight="normal" text-anchor="middle" fill="#000" transform="translate(512.8,398.7) rotate(-90)" textLength="37.2" lengthAdjust="spacingAndGlyphs" stroke="#000" stroke-width="0.3">LY294002</text>
<text x="-1.6" y="441.1" font-size="16.6" font-weight="bold" text-anchor="start" fill="#000" textLength="12.2" lengthAdjust="spacingAndGlyphs" stroke="#000" stroke-width="0.7">E</text>
<line x1="53.3" y1="448.6" x2="53.3" y2="585.0" stroke="#222" stroke-width="1.2" />
<line x1="50.3" y1="585.0" x2="53.3" y2="585.0" stroke="#222" stroke-width="1" />
<text x="46.4" y="587.7" font-size="6.3" font-weight="bold" text-anchor="end" fill="#000" textLength="10.4" lengthAdjust="spacingAndGlyphs" >0.0</text>
<line x1="50.3" y1="539.8" x2="53.3" y2="539.8" stroke="#222" stroke-width="1" />
<text x="46.4" y="542.5" font-size="6.3" font-weight="bold" text-anchor="end" fill="#000" textLength="10.4" lengthAdjust="spacingAndGlyphs" >0.4</text>
<line x1="50.3" y1="494.6" x2="53.3" y2="494.6" stroke="#222" stroke-width="1" />
<text x="46.4" y="497.3" font-size="6.3" font-weight="bold" text-anchor="end" fill="#000" textLength="10.4" lengthAdjust="spacingAndGlyphs" >0.8</text>
<line x1="50.3" y1="449.4" x2="53.3" y2="449.4" stroke="#222" stroke-width="1" />
<text x="46.4" y="452.1" font-size="6.3" font-weight="bold" text-anchor="end" fill="#000" textLength="10.4" lengthAdjust="spacingAndGlyphs" >1.2</text>
<line x1="53.3" y1="585.0" x2="232.3" y2="585.0" stroke="#222" stroke-width="1.2" />
<line x1="53.3" y1="585.0" x2="53.3" y2="588.0" stroke="#222" stroke-width="1" />
<line x1="98.3" y1="585.0" x2="98.3" y2="588.0" stroke="#222" stroke-width="1" />
<line x1="141.9" y1="585.0" x2="141.9" y2="588.0" stroke="#222" stroke-width="1" />
<line x1="185.7" y1="585.0" x2="185.7" y2="588.0" stroke="#222" stroke-width="1" />
<line x1="232.0" y1="585.0" x2="232.0" y2="588.0" stroke="#222" stroke-width="1" />
<rect x="62.4" y="472.0" width="13.4" height="113.0" fill="#000" />
<rect x="76.3" y="472.5" width="12.0" height="112.5" fill="#9a9a9a" stroke="#222" stroke-width="1" />
<line x1="69.1" y1="466.35" x2="69.1" y2="472.0" stroke="#000" stroke-width="1" />
<line x1="66.6" y1="466.35" x2="71.6" y2="466.35" stroke="#000" stroke-width="1" />
<line x1="82.3" y1="460.7" x2="82.3" y2="483.3" stroke="#000" stroke-width="1" />
<line x1="79.8" y1="460.7" x2="84.8" y2="460.7" stroke="#000" stroke-width="1" />
<line x1="79.8" y1="483.3" x2="84.8" y2="483.3" stroke="#000" stroke-width="1" />
<rect x="106.8" y="508.16" width="13.4" height="76.84" fill="#000" />
<rect x="120.7" y="493.97" width="12.0" height="91.03" fill="#9a9a9a" stroke="#222" stroke-width="1" />
<line x1="113.5" y1="494.6" x2="113.5" y2="508.16" stroke="#000" stroke-width="1" />
<line x1="111.0" y1="494.6" x2="116.0" y2="494.6" stroke="#000" stroke-width="1" />
<line x1="126.7" y1="474.26" x2="126.7" y2="514.94" stroke="#000" stroke-width="1" />
<line x1="124.2" y1="474.26" x2="129.2" y2="474.26" stroke="#000" stroke-width="1" />
<line x1="124.2" y1="514.94" x2="129.2" y2="514.94" stroke="#000" stroke-width="1" />
<rect x="150.6" y="500.25" width="13.4" height="84.75" fill="#000" />
<rect x="164.5" y="510.92" width="12.0" height="74.08" fill="#9a9a9a" stroke="#222" stroke-width="1" />
<line x1="157.3" y1="488.95" x2="157.3" y2="500.25" stroke="#000" stroke-width="1" />
<line x1="154.8" y1="488.95" x2="159.8" y2="488.95" stroke="#000" stroke-width="1" />
<line x1="170.5" y1="507.03" x2="170.5" y2="513.81" stroke="#000" stroke-width="1" />
<line x1="168.0" y1="507.03" x2="173.0" y2="507.03" stroke="#000" stroke-width="1" />
<line x1="168.0" y1="513.81" x2="173.0" y2="513.81" stroke="#000" stroke-width="1" />
<rect x="195.6" y="513.81" width="13.4" height="71.19" fill="#000" />
<rect x="209.5" y="523.35" width="12.0" height="61.65" fill="#9a9a9a" stroke="#222" stroke-width="1" />
<line x1="202.3" y1="499.12" x2="202.3" y2="513.81" stroke="#000" stroke-width="1" />
<line x1="199.8" y1="499.12" x2="204.8" y2="499.12" stroke="#000" stroke-width="1" />
<line x1="215.5" y1="520.02" x2="215.5" y2="525.67" stroke="#000" stroke-width="1" />
<line x1="213.0" y1="520.02" x2="218.0" y2="520.02" stroke="#000" stroke-width="1" />
<line x1="213.0" y1="525.67" x2="218.0" y2="525.67" stroke="#000" stroke-width="1" />
<rect x="187.9" y="446.2" width="6.8" height="6.3" fill="#000" />
<text x="197.6" y="453.3" font-size="11" font-weight="normal" text-anchor="start" fill="#000" stroke="#000" stroke-width="0.3">6h</text>
<rect x="188.4" y="473.7" width="5.8" height="5.8" fill="#9a9a9a" stroke="#111" stroke-width="1" />
<text x="197.6" y="481.2" font-size="11" font-weight="normal" text-anchor="start" fill="#000" textLength="19.8" lengthAdjust="spacingAndGlyphs" stroke="#000" stroke-width="0.3">24h</text>
<text x="0" y="0" font-size="11.5" font-weight="bold" text-anchor="middle" fill="#000" transform="translate(17.8,523.2) rotate(-90)" textLength="143" lengthAdjust="spacingAndGlyphs" >Proliferation (fold change)</text>
<text x="0" y="0" font-size="8.2" font-weight="normal" text-anchor="middle" fill="#000" transform="translate(78.9,606.7) rotate(-90)" textLength="24.1" lengthAdjust="spacingAndGlyphs" stroke="#000" stroke-width="0.28">DMSO</text>
<text x="0" y="0" font-size="8.2" font-weight="normal" text-anchor="middle" fill="#000" transform="translate(118.9,616.2) rotate(-90)" textLength="30.6" lengthAdjust="spacingAndGlyphs" stroke="#000" stroke-width="0.28">Nutlin-3</text>
<text x="0" y="0" font-size="8.2" font-weight="normal" text-anchor="middle" fill="#000" transform="translate(127.4,615.8) rotate(-90)" textLength="42.1" lengthAdjust="spacingAndGlyphs" stroke="#000" stroke-width="0.28">+SP600125</text>
<text x="0" y="0" font-size="8.2" font-weight="normal" text-anchor="middle" fill="#000" transform="translate(163.5,615.8) rotate(-90)" textLength="31.2" lengthAdjust="spacingAndGlyphs" stroke="#000" stroke-width="0.28">Nutlin-3</text>
<text x="0" y="0" font-size="8.2" font-weight="normal" text-anchor="middle" fill="#000" transform="translate(173.5,615.5) rotate(-90)" textLength="42.6" lengthAdjust="spacingAndGlyphs" stroke="#000" stroke-width="0.28">+LY294002</text>
<text x="0" y="0" font-size="8.2" font-weight="normal" text-anchor="middle" fill="#000" transform="translate(202.8,615.8) rotate(-90)" textLength="31.2" lengthAdjust="spacingAndGlyphs" stroke="#000" stroke-width="0.28">Nutlin-3</text>
<text x="0" y="0" font-size="8.2" font-weight="normal" text-anchor="middle" fill="#000" transform="translate(212.8,615.5) rotate(-90)" textLength="42.6" lengthAdjust="spacingAndGlyphs" stroke="#000" stroke-width="0.28">+SP600125</text>
<text x="0" y="0" font-size="8.2" font-weight="normal" text-anchor="middle" fill="#000" transform="translate(222.0,615.5) rotate(-90)" textLength="42.6" lengthAdjust="spacingAndGlyphs" stroke="#000" stroke-width="0.28">+LY294002</text>
<text x="260.9" y="441.2" font-size="16.6" font-weight="bold" text-anchor="start" fill="#000" textLength="10.0" lengthAdjust="spacingAndGlyphs" stroke="#000" stroke-width="0.7">F</text>
<line x1="284.0" y1="462.0" x2="284.0" y2="581.2" stroke="#222" stroke-width="1.2" />
<line x1="282.0" y1="581.2" x2="285.8" y2="581.2" stroke="#222" stroke-width="1" />
<text x="278.6" y="583.8" font-size="6.6" font-weight="bold" text-anchor="end" fill="#000" textLength="8.2" lengthAdjust="spacingAndGlyphs" stroke="#000" stroke-width="0.15">0%</text>
<line x1="282.0" y1="569.4" x2="285.8" y2="569.4" stroke="#222" stroke-width="1" />
<text x="278.6" y="572" font-size="6.6" font-weight="bold" text-anchor="end" fill="#000" textLength="12.4" lengthAdjust="spacingAndGlyphs" stroke="#000" stroke-width="0.15">10%</text>
<line x1="282.0" y1="557.6" x2="285.8" y2="557.6" stroke="#222" stroke-width="1" />
<text x="278.6" y="560.2" font-size="6.6" font-weight="bold" text-anchor="end" fill="#000" textLength="12.4" lengthAdjust="spacingAndGlyphs" stroke="#000" stroke-width="0.15">20%</text>
<line x1="282.0" y1="545.8" x2="285.8" y2="545.8" stroke="#222" stroke-width="1" />
<text x="278.6" y="548.4" font-size="6.6" font-weight="bold" text-anchor="end" fill="#000" textLength="12.4" lengthAdjust="spacingAndGlyphs" stroke="#000" stroke-width="0.15">30%</text>
<line x1="282.0" y1="534.0" x2="285.8" y2="534.0" stroke="#222" stroke-width="1" />
<text x="278.6" y="536.6" font-size="6.6" font-weight="bold" text-anchor="end" fill="#000" textLength="12.4" lengthAdjust="spacingAndGlyphs" stroke="#000" stroke-width="0.15">40%</text>
<line x1="282.0" y1="522.2" x2="285.8" y2="522.2" stroke="#222" stroke-width="1" />
<text x="278.6" y="524.8" font-size="6.6" font-weight="bold" text-anchor="end" fill="#000" textLength="12.4" lengthAdjust="spacingAndGlyphs" stroke="#000" stroke-width="0.15">50%</text>
<line x1="282.0" y1="510.4" x2="285.8" y2="510.4" stroke="#222" stroke-width="1" />
<text x="278.6" y="513.0" font-size="6.6" font-weight="bold" text-anchor="end" fill="#000" textLength="12.4" lengthAdjust="spacingAndGlyphs" stroke="#000" stroke-width="0.15">60%</text>
<line x1="282.0" y1="498.6" x2="285.8" y2="498.6" stroke="#222" stroke-width="1" />
<text x="278.6" y="501.2" font-size="6.6" font-weight="bold" text-anchor="end" fill="#000" textLength="12.4" lengthAdjust="spacingAndGlyphs" stroke="#000" stroke-width="0.15">70%</text>
<line x1="282.0" y1="486.8" x2="285.8" y2="486.8" stroke="#222" stroke-width="1" />
<text x="278.6" y="489.4" font-size="6.6" font-weight="bold" text-anchor="end" fill="#000" textLength="12.4" lengthAdjust="spacingAndGlyphs" stroke="#000" stroke-width="0.15">80%</text>
<line x1="282.0" y1="475" x2="285.8" y2="475" stroke="#222" stroke-width="1" />
<text x="278.6" y="477.6" font-size="6.6" font-weight="bold" text-anchor="end" fill="#000" textLength="12.4" lengthAdjust="spacingAndGlyphs" stroke="#000" stroke-width="0.15">90%</text>
<line x1="282.0" y1="463.2" x2="285.8" y2="463.2" stroke="#222" stroke-width="1" />
<text x="278.6" y="465.8" font-size="6.6" font-weight="bold" text-anchor="end" fill="#000" textLength="15.0" lengthAdjust="spacingAndGlyphs" stroke="#000" stroke-width="0.15">100%</text>
<line x1="284.0" y1="581.2" x2="436.8" y2="581.2" stroke="#222" stroke-width="1.2" />
<line x1="305.6" y1="581.2" x2="305.6" y2="578.7" stroke="#222" stroke-width="1" />
<line x1="327.3" y1="581.2" x2="327.3" y2="578.7" stroke="#222" stroke-width="1" />
<line x1="348.8" y1="581.2" x2="348.8" y2="578.7" stroke="#222" stroke-width="1" />
<line x1="370.3" y1="581.2" x2="370.3" y2="578.7" stroke="#222" stroke-width="1" />
<line x1="392.0" y1="581.2" x2="392.0" y2="578.7" stroke="#222" stroke-width="1" />
<line x1="413.6" y1="581.2" x2="413.6" y2="578.7" stroke="#222" stroke-width="1" />
<line x1="436.7" y1="581.2" x2="436.7" y2="578.7" stroke="#222" stroke-width="1" />
<rect x="289.8" y="463.2" width="9.3" height="28.32" fill="#828282" />
<rect x="289.8" y="491.52" width="9.3" height="41.3" fill="#fff" />
<rect x="289.8" y="532.82" width="9.3" height="48.38" fill="#000" />
<line x1="289.8" y1="491.52" x2="299.1" y2="491.52" stroke="#333" stroke-width="1" />
<rect x="290.3" y="463.7" width="8.3" height="117.5" fill="none" stroke="#333" stroke-width="1" />
<rect x="311.53" y="463.2" width="9.3" height="23.01" fill="#828282" />
<rect x="311.53" y="486.21" width="9.3" height="33.04" fill="#fff" />
<rect x="311.53" y="519.25" width="9.3" height="61.95" fill="#000" />
<line x1="311.53" y1="486.21" x2="320.83" y2="486.21" stroke="#333" stroke-width="1" />
<rect x="312.03" y="463.7" width="8.3" height="117.5" fill="none" stroke="#333" stroke-width="1" />
<rect x="333.26" y="463.2" width="9.3" height="31.86" fill="#828282" />
<rect x="333.26" y="495.06" width="9.3" height="40.36" fill="#fff" />
<rect x="333.26" y="535.42" width="9.3" height="45.78" fill="#000" />
<line x1="333.26" y1="495.06" x2="342.56" y2="495.06" stroke="#333" stroke-width="1" />
<rect x="333.76" y="463.7" width="8.3" height="117.5" fill="none" stroke="#333" stroke-width="1" />
<rect x="354.99" y="463.2" width="9.3" height="39.53" fill="#828282" />
<rect x="354.99" y="502.73" width="9.3" height="44.84" fill="#fff" />
<rect x="354.99" y="547.57" width="9.3" height="33.63" fill="#000" />
<line x1="354.99" y1="502.73" x2="364.29" y2="502.73" stroke="#333" stroke-width="1" />
<rect x="355.49" y="463.7" width="8.3" height="117.5" fill="none" stroke="#333" stroke-width="1" />
<rect x="376.72" y="463.2" width="9.3" height="45.43" fill="#828282" />
<rect x="376.72" y="508.63" width="9.3" height="39.88" fill="#fff" />
<rect x="376.72" y="548.51" width="9.3" height="32.69" fill="#000" />
<line x1="376.72" y1="508.63" x2="386.02" y2="508.63" stroke="#333" stroke-width="1" />
<rect x="377.22" y="463.7" width="8.3" height="117.5" fill="none" stroke="#333" stroke-width="1" />
<rect x="398.45" y="463.2" width="9.3" height="21.83" fill="#828282" />
<rect x="398.45" y="485.03" width="9.3" height="32.45" fill="#fff" />
<rect x="398.45" y="517.48" width="9.3" height="63.72" fill="#000" />
<line x1="398.45" y1="485.03" x2="407.75" y2="485.03" stroke="#333" stroke-width="1" />
<rect x="398.95" y="463.7" width="8.3" height="117.5" fill="none" stroke="#333" stroke-width="1" />
<rect x="420.18" y="463.2" width="9.3" height="21.24" fill="#828282" />
<rect x="420.18" y="484.44" width="9.3" height="28.32" fill="#fff" />
<rect x="420.18" y="512.76" width="9.3" height="68.44" fill="#000" />
<line x1="420.18" y1="484.44" x2="429.48" y2="484.44" stroke="#333" stroke-width="1" />
<rect x="420.68" y="463.7" width="8.3" height="117.5" fill="none" stroke="#333" stroke-width="1" />
<rect x="452.8" y="507.6" width="3.4" height="3.2" fill="#828282" stroke="#222" stroke-width="0.8" />
<text x="459.0" y="512.2" font-size="7.3" font-weight="bold" text-anchor="start" fill="#000" >G2/M</text>
<rect x="452.8" y="521.2" width="3.4" height="3.2" fill="#fff" stroke="#222" stroke-width="0.8" />
<text x="459.0" y="525.6" font-size="7.3" font-weight="bold" text-anchor="start" fill="#000" >S</text>
<rect x="452.6" y="534.6" width="3.8" height="3.8" fill="#000" />
<text x="459.0" y="539.3" font-size="7.3" font-weight="bold" text-anchor="start" fill="#000" >G0/G1</text>
<text x="0" y="0" font-size="7.0" font-weight="normal" text-anchor="middle" fill="#000" transform="translate(297.8,599.5) rotate(-90)" textLength="22.0" lengthAdjust="spacingAndGlyphs" stroke="#000" stroke-width="0.25">DMSO</text>
<text x="0" y="0" font-size="7.0" font-weight="normal" text-anchor="middle" fill="#000" transform="translate(319.3,605.65) rotate(-90)" textLength="34.3" lengthAdjust="spacingAndGlyphs" stroke="#000" stroke-width="0.25">WHI-P154</text>
<text x="0" y="0" font-size="7.0" font-weight="normal" text-anchor="middle" fill="#000" transform="translate(341.3,601.8) rotate(-90)" textLength="26.6" lengthAdjust="spacingAndGlyphs" stroke="#000" stroke-width="0.25">Nutlin-3</text>
<text x="0" y="0" font-size="7.0" font-weight="normal" text-anchor="middle" fill="#000" transform="translate(362.4,606.0) rotate(-90)" textLength="35.0" lengthAdjust="spacingAndGlyphs" stroke="#000" stroke-width="0.25">SP600125</text>
<text x="0" y="0" font-size="7.0" font-weight="normal" text-anchor="middle" fill="#000" transform="translate(380.1,605.7) rotate(-90)" textLength="32.8" lengthAdjust="spacingAndGlyphs" stroke="#000" stroke-width="0.25">Nutlin-3 +</text>
<text x="0" y="0" font-size="7.0" font-weight="normal" text-anchor="middle" fill="#000" transform="translate(388.5,606.2) rotate(-90)" textLength="35.4" lengthAdjust="spacingAndGlyphs" stroke="#000" stroke-width="0.25">SP600125</text>
<text x="0" y="0" font-size="7.0" font-weight="normal" text-anchor="middle" fill="#000" transform="translate(406.5,605.4) rotate(-90)" textLength="33.8" lengthAdjust="spacingAndGlyphs" stroke="#000" stroke-width="0.25">LY294002</text>
<text x="0" y="0" font-size="7.0" font-weight="normal" text-anchor="middle" fill="#000" transform="translate(423.2,605.7) rotate(-90)" textLength="32.8" lengthAdjust="spacingAndGlyphs" stroke="#000" stroke-width="0.25">Nutlin-3 +</text>
<text x="0" y="0" font-size="7.0" font-weight="normal" text-anchor="middle" fill="#000" transform="translate(432.4,605.4) rotate(-90)" textLength="33.8" lengthAdjust="spacingAndGlyphs" stroke="#000" stroke-width="0.25">LY294002</text>
</svg>
</body></html>
